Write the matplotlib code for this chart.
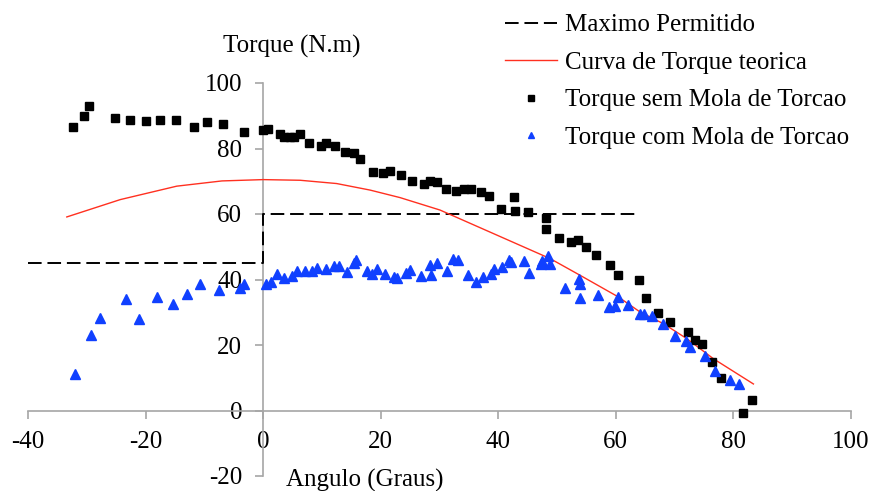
import numpy as np
import matplotlib.pyplot as plt

# Valores
ang_sem = [-32.3, -30.4, -29.7, -25.2, -22.7, -19.9, -17.6, -14.8, -11.8, -9.5, -6.9, -3.2,
           0.0, 0.8, 2.8, 3.6, 4.5, 5.2, 6.2, 7.8, 9.8, 10.7, 12.3, 13.9, 15.5, 16.5,
           18.7, 20.4, 21.5, 23.4, 25.4, 27.4, 28.4, 29.5, 31.1, 32.8, 34.1, 35.3, 37.0,
           38.5, 40.5, 42.6, 42.8, 45.0, 48.1, 48.2, 50.3, 52.4, 53.6, 55.0, 56.6, 59.0,
           60.4, 63.9, 65.1, 67.1, 69.2, 72.3, 73.4, 74.6, 76.4, 77.9, 81.6, 83.2]
torque_sem = [86.5, 90.0, 93.0, 89.3, 88.7, 88.4, 88.7, 88.7, 86.5, 88.1, 87.5, 85.1,
              85.5, 85.9, 84.4, 83.6, 83.6, 83.6, 84.4, 81.8, 80.7, 81.7, 80.9, 78.9, 78.5, 76.9,
              72.9, 72.6, 73.0, 72.0, 70.0, 69.3, 70.1, 69.7, 67.7, 67.1, 67.5, 67.5, 66.6,
              65.6, 61.4, 65.2, 60.9, 60.5, 58.9, 55.4, 52.8, 51.6, 52.0, 49.9, 47.4, 44.3,
              41.5, 40.0, 34.2, 29.8, 26.9, 24.1, 21.5, 20.4, 14.7, 9.8, -0.7, 3.1]

ang_com = [-32.0, -29.3, -27.8, -23.4, -21.1, -18.1, -15.3, -12.9, -10.7, -7.5, -3.9, -3.3,
           0.5, 1.3, 2.4, 3.6, 4.9, 5.8, 7.2, 8.3, 9.2, 10.7, 12.1, 12.9, 14.3, 15.4, 15.8,
           17.7, 18.5, 19.4, 20.7, 22.3, 22.8, 24.3, 25.0, 26.8, 28.4, 28.5, 29.5, 31.2,
           32.3, 33.2, 34.9, 36.2, 37.4, 38.7, 39.2, 40.7, 41.9, 42.2, 44.4, 45.2, 47.2,
           47.4, 48.4, 48.8, 51.4, 53.8, 53.9, 53.9, 57.0, 58.8, 59.9, 60.4, 62.1, 64.1,
           64.8, 66.2, 68.1, 70.1, 71.9, 72.6, 75.1, 76.8, 79.5, 81.0]
torque_com = [11.0, 23.2, 28.3, 34.0, 28.0, 34.6, 32.4, 35.7, 38.7, 36.9, 37.5, 38.5,
              38.5, 39.2, 41.6, 40.4, 41.0, 42.6, 42.6, 42.6, 43.6, 43.2, 44.0, 44.0, 42.4, 44.9, 46.1,
              42.6, 41.6, 43.2, 41.6, 40.8, 40.6, 42.0, 43.0, 41.0, 44.4, 41.4, 44.9, 42.6,
              46.3, 46.1, 41.3, 39.3, 40.8, 41.6, 43.2, 43.8, 46.1, 45.3, 45.5, 42.0, 44.6,
              45.6, 47.3, 44.6, 37.5, 40.2, 38.5, 34.5, 35.4, 31.6, 32.0, 34.6, 32.2, 29.4,
              29.4, 29.0, 26.5, 22.9, 21.2, 19.4, 16.6, 12.2, 9.4, 8.2]

ang_teor = [-33.4, -24.3, -14.7, -7.0, 0.0, 6.3, 12.5, 18.2, 23.3, 30.1, 39.2, 48.8,
            53.9, 60.4, 64.1, 68.1, 72.1, 76.6, 83.4]
torque_teor = [59.1, 64.4, 68.5, 70.1, 70.5, 70.3, 69.3, 67.3, 65.0, 61.2, 54.0, 46.4,
               41.3, 34.7, 30.1, 26.5, 21.9, 15.8, 8.1]

ang_max = [-40, 0, 0, 64]
torque_max = [45, 45, 60, 60]

plt.rcParams['font.family'] = ['Liberation Serif', 'DejaVu Serif']
plt.rcParams['axes.unicode_minus'] = False

fig = plt.figure(figsize=(8.7, 4.91), dpi=100)
ax = fig.add_axes([28 / 870, 1 - 476 / 491, 823 / 870, 393 / 491])

ax.plot(ang_max, torque_max, color='black', lw=1.4, dashes=(7, 3), zorder=3,
        label='Maximo Permitido')
ax.plot(ang_teor, torque_teor, color='#ff3020', lw=1.0, zorder=3, label='Curva de Torque teorica')
ax.plot(ang_sem, torque_sem, 's', color='black', ms=6, ls='none', zorder=4,
        label='Torque sem Mola de Torcao')
ax.plot(ang_com, torque_com, '^', color='#1040ff', ms=6.5, ls='none', zorder=5,
        label='Torque com Mola de Torcao')

ax.set_xlim(-40, 100)
ax.set_ylim(-20, 100)
ax.set_xticks(np.arange(-40, 101, 20))
ax.set_yticks(np.arange(-20, 101, 20))

for s in ['top', 'right']:
    ax.spines[s].set_visible(False)
for s in ['left', 'bottom']:
    ax.spines[s].set_position(('data', 0))
    ax.spines[s].set_color('#a6a6a6')
    ax.spines[s].set_linewidth(1.2)
ax.tick_params(axis='both', direction='out', length=6, width=1.2, color='#a6a6a6',
               labelsize=18, labelcolor='black', pad=9)

fig.text(292 / 870, 1 - 46 / 491, 'Torque (N.m)', fontsize=18, ha='center', va='center')
fig.text(365 / 870, 1 - 480 / 491, 'Angulo (Graus)', fontsize=18, ha='center', va='center')

ax.legend(loc='upper left', bbox_to_anchor=(491 / 870, 1.0), bbox_transform=fig.transFigure,
          frameon=False, fontsize=18, handlelength=2.1, handletextpad=0.3,
          labelspacing=0.6, numpoints=1, markerscale=0.75, borderaxespad=0.15)

fig.savefig('out.png', dpi=100)
